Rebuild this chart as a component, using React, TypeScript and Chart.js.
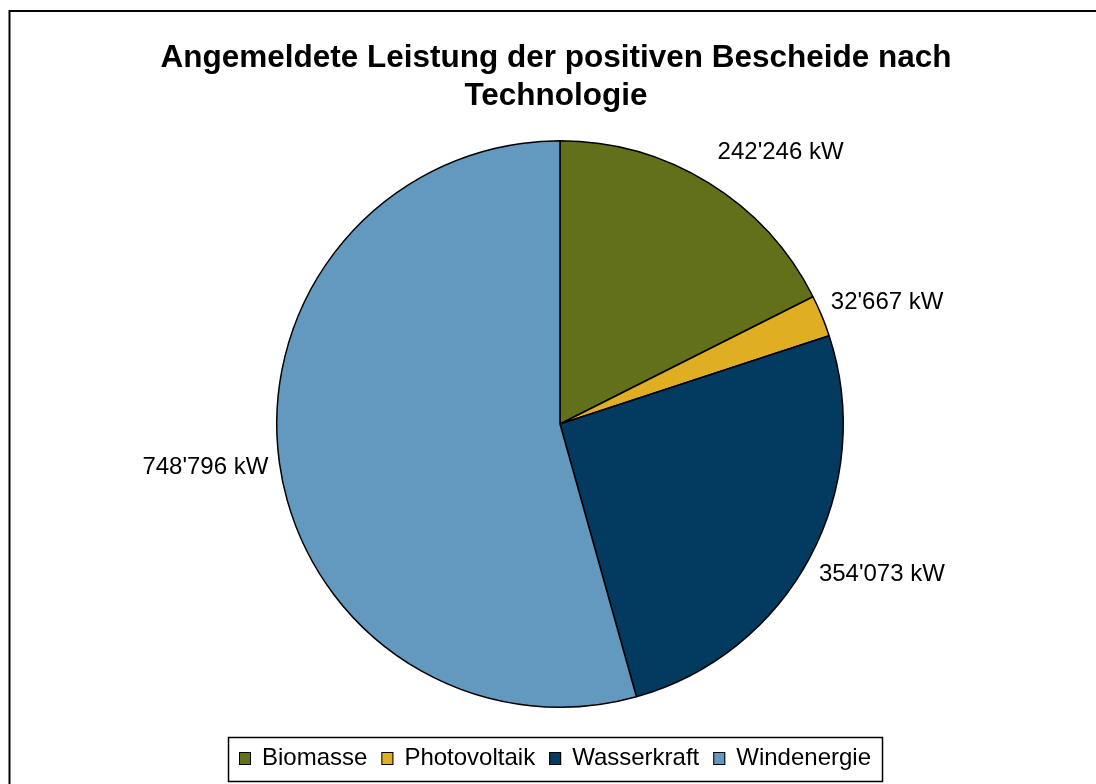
import React, { useEffect, useRef } from "react";
import { Chart, registerables } from "chart.js";

Chart.register(...registerables);

const titleLines = ["Angemeldete Leistung der positiven Bescheide nach", "Technologie"];
const categories = ["Biomasse", "Photovoltaik", "Wasserkraft", "Windenergie"];
const values = [242246, 32667, 354073, 748796];
const unit = "kW";
const colors = ["#627119", "#E0AE22", "#023B5F", "#6399BE"];

const FONT = '"Liberation Sans", Arial, sans-serif';

function fmt(v: number): string {
  return v.toString().replace(/\B(?=(\d{3})+(?!\d))/g, "'") + " " + unit;
}

const decor = {
  id: "decor",
  beforeDraw(chart: any) {
    const ctx = chart.ctx as CanvasRenderingContext2D;
    ctx.save();
    ctx.fillStyle = "#ffffff";
    ctx.fillRect(0, 0, chart.width, chart.height);
    ctx.strokeStyle = "#000000";
    ctx.lineWidth = 2;
    ctx.strokeRect(9.5, 11, chart.width + 100, chart.height + 100);
    ctx.restore();
  },
  afterDraw(chart: any) {
    const ctx = chart.ctx as CanvasRenderingContext2D;
    ctx.save();
    // Title
    ctx.fillStyle = "#000000";
    ctx.font = `bold 31.5px ${FONT}`;
    ctx.textAlign = "center";
    ctx.textBaseline = "alphabetic";
    titleLines.forEach((line, i) => {
      ctx.fillText(line, 556, 67 + i * 38);
    });

    // Data labels
    const meta = chart.getDatasetMeta(0);
    ctx.font = `24px ${FONT}`;
    meta.data.forEach((arc: any, i: number) => {
      const p = arc.getProps(["x", "y", "startAngle", "endAngle", "outerRadius"], true);
      const mid = (p.startAngle + p.endAngle) / 2;
      const ax = p.x + Math.cos(mid) * p.outerRadius;
      const ay = p.y + Math.sin(mid) * p.outerRadius;
      const right = Math.cos(mid) >= 0;
      ctx.textAlign = right ? "left" : "right";
      ctx.textBaseline = "middle";
      const tx = ax + (right ? 9 : -11);
      const ty = ay + 36 * Math.sin(mid);
      ctx.fillText(fmt(values[i]), tx, ty);
    });

    // Legend
    ctx.font = `24px ${FONT}`;
    ctx.textAlign = "left";
    ctx.textBaseline = "alphabetic";
    const sq = 12;
    const gapSqText = 11;
    const gapItems = 14;
    const widths = categories.map((c) => ctx.measureText(c).width);
    let total = 0;
    widths.forEach((w, i) => {
      total += sq + gapSqText + w + (i < widths.length - 1 ? gapItems : 0);
    });
    const padX = 11;
    const boxW = total + padX * 2;
    const boxL = 555 - boxW / 2;
    const boxT = 737;
    const boxH = 44;
    ctx.strokeStyle = "#000000";
    ctx.lineWidth = 1.5;
    ctx.strokeRect(Math.round(boxL) + 0.5, boxT + 0.5, Math.round(boxW), boxH);
    let x = boxL + padX;
    categories.forEach((c, i) => {
      ctx.fillStyle = colors[i];
      ctx.fillRect(x, 752, sq, 13);
      ctx.strokeStyle = "#000000";
      ctx.lineWidth = 1;
      ctx.strokeRect(x + 0.5, 752.5, sq - 1, 12);
      ctx.fillStyle = "#000000";
      ctx.fillText(c, x + sq + gapSqText, 765);
      x += sq + gapSqText + widths[i] + gapItems;
    });
    ctx.restore();
  },
};

export default function App() {
  const ref = useRef<HTMLCanvasElement>(null);
  useEffect(() => {
    const chart = new Chart(ref.current as HTMLCanvasElement, {
      type: "pie",
      data: {
        labels: categories,
        datasets: [
          {
            data: values,
            backgroundColor: colors,
            borderColor: "#000000",
            borderWidth: 1.5,
          },
        ],
      },
      options: {
        responsive: false,
        animation: false,
        events: [],
        layout: { padding: { left: 276, right: 252, top: 140, bottom: 76 } },
        plugins: {
          legend: { display: false },
          title: { display: false },
          tooltip: { enabled: false },
        },
      },
      plugins: [decor],
    } as any);
    return () => chart.destroy();
  }, []);
  return (
    <div
      style={{
        position: "absolute",
        left: 0,
        top: 0,
        width: 1096,
        height: 784,
        overflow: "hidden",
        background: "#ffffff",
      }}
    >
      <canvas ref={ref} width={1096} height={784} style={{ display: "block" }} />
    </div>
  );
}
